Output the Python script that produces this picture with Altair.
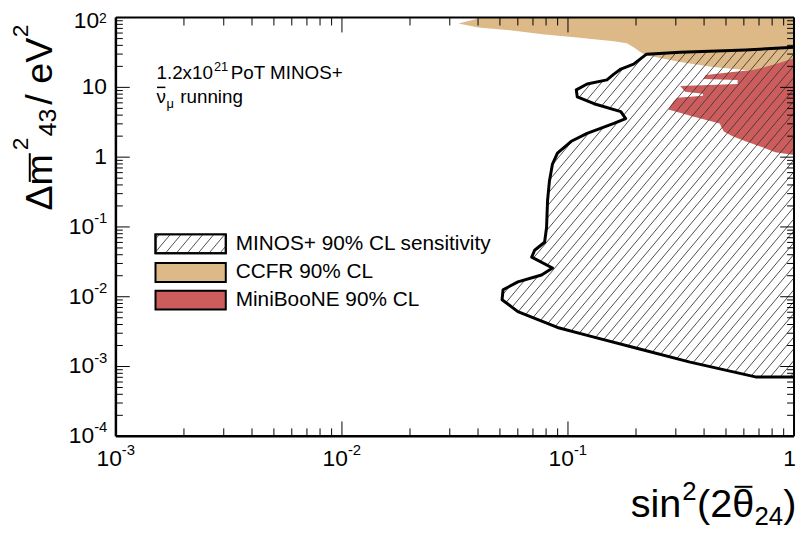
import altair as alt
import numpy as np
import pandas as pd

FONT = "Liberation Sans"
W, H = 685, 423

# ---- data (sin^2(2theta_24), Delta m^2_43 [eV^2]) ----
# MINOS+ 90% CL sensitivity: left boundary of the excluded region (region extends to sin^2 = 1)
minos_s2 = [1.0, 0.610, 0.3135, 0.2226, 0.1952, 0.1713, 0.1596, 0.1487, 0.1215, 0.1088,
            0.1099, 0.1304, 0.1713, 0.180, 0.1596, 0.1215, 0.1034, 0.0898, 0.0854, 0.0828,
            0.0812, 0.0804, 0.0788, 0.0712, 0.0691, 0.0854, 0.0764, 0.060, 0.0516, 0.0511,
            0.060, 0.0898, 0.1265, 0.2095, 0.3468, 0.675, 1.0]
minos_dm2 = [37.5, 34.4, 31.9, 29.9, 21.5, 18.3, 15.5, 12.8, 11.2, 9.2,
             7.33, 5.83, 4.49, 3.57, 3.04, 2.19, 1.69, 1.14, 0.796, 0.457,
             0.2376, 0.0984, 0.0603, 0.0464, 0.0369, 0.0258, 0.0205, 0.0163, 0.01257, 0.00907,
             0.00613, 0.00363, 0.00271, 0.00177, 0.001158, 0.00071, 0.00071]

# CCFR 90% CL: left/lower boundary (region extends to sin^2 = 1, above the plot top)
ccfr_s2 = [0.0452, 0.0401, 0.0328, 0.0401, 0.0565, 0.0788, 0.1099, 0.1596, 0.1819, 0.1952,
           0.2095, 0.2226, 0.3135, 0.4374, 0.610, 1.0]
ccfr_dm2 = [117.7, 96.8, 82.2, 72.1, 65.4, 57.4, 52.0, 45.7, 42.8, 37.5,
            31.9, 28.9, 23.0, 19.5, 17.7, 16.6]

# MiniBooNE 90% CL: left boundary (region extends to sin^2 = 1)
mb_s2 = [1.0, 0.860, 0.746, 0.655, 0.535, 0.4076, 0.3955, 0.5628, 0.5628, 0.3135,
         0.330, 0.3955, 0.3955, 0.3042, 0.2922, 0.2779, 0.3575, 0.469, 0.4889, 0.535,
         0.610, 0.7244, 0.8257, 1.0]
mb_dm2 = [26.2, 22.3, 19.5, 17.7, 16.6, 15.0, 13.2, 12.8, 11.2, 10.5,
          8.64, 8.09, 7.58, 7.10, 6.23, 4.80, 3.82, 3.04, 2.34, 1.99,
          1.69, 1.39, 1.18, 1.07]

# axes
x_major = [1e-3, 1e-2, 1e-1, 1.0]
x_exp_vals = [1e-3, 1e-2, 1e-1]
x_exps = ["-3", "-2", "-1"]
y_major = [1e-4, 1e-3, 1e-2, 1e-1, 1.0, 10.0, 100.0]
y_exp_vals = [100.0, 0.1, 0.01, 0.001, 0.0001]
y_exps = ["2", "-1", "-2", "-3", "-4"]
y_plain_vals = [10.0, 1.0]
y_plain_txt = ["10", "1"]
mantissas = [2, 3, 4, 5, 6, 7, 8, 9]
x_minor = [m * d for d in [1e-3, 1e-2, 1e-1] for m in mantissas]
y_minor = [m * d for d in [1e-4, 1e-3, 1e-2, 1e-1, 1.0, 10.0] for m in mantissas]

legend_labels = ["MINOS+ 90% CL sensitivity", "CCFR 90% CL", "MiniBooNE 90% CL"]
C_CCFR = "#ddb987"
C_MB = "#cd5c5c"
C_HATCH = "#3a3a3a"

xs = alt.Scale(type="log", domain=[1e-3, 1.0])
ys = alt.Scale(type="log", domain=[1e-4, 100.0])


def X(f):
    return alt.X(f, type="quantitative", scale=xs, axis=None, stack=None)


def Y(f):
    return alt.Y(f, type="quantitative", scale=ys, axis=None, stack=None)


dummy = pd.DataFrame({"z": [0]})


def txt(text, x, y, size, align="left", baseline="alphabetic", angle=0):
    return alt.Chart(dummy).mark_text(
        text=text, font=FONT, fontSize=size, align=align, baseline=baseline,
        angle=angle, color="black").encode(x=alt.value(x), y=alt.value(y))


def rule_px(x1, y1, x2, y2, color="black", width=1.0):
    return alt.Chart(dummy).mark_rule(color=color, strokeWidth=width).encode(
        x=alt.value(x1), y=alt.value(y1), x2=alt.value(x2), y2=alt.value(y2))


layers = []


def region(s2, dm2, color):
    df = pd.DataFrame({"s2": s2, "dm2": dm2, "edge": [1.0] * len(s2)})
    return alt.Chart(df).mark_area(orient="horizontal", color=color, opacity=1, clip=True).encode(
        y=Y("dm2"), x=X("s2"), x2=alt.X2("edge"))


layers.append(region(ccfr_s2, ccfr_dm2, C_CCFR))
layers.append(region(mb_s2, mb_dm2, C_MB))

# hatch of MINOS+ region computed from its polygon
U = np.log10(np.array(minos_s2))
V = np.log10(np.array(minos_dm2))
ang = 50.0
k = np.tan(np.radians(ang)) * (W / 3.0) / (H / 6.0)
step = k * 10.0 / (W / 3.0)
cvals = V - k * U
segs = []
for c in np.arange(cvals.min() + 0.4 * step, cvals.max(), step):
    f = V - k * U - c
    us = []
    n = len(U)
    for a in range(n):
        b = (a + 1) % n
        if (f[a] > 0) != (f[b] > 0):
            t = f[a] / (f[a] - f[b])
            us.append(U[a] + t * (U[b] - U[a]))
    us.sort()
    for p in range(0, len(us) - 1, 2):
        u1, u2 = us[p], us[p + 1]
        segs.append({"x1": 10 ** u1, "y1": 10 ** (k * u1 + c), "x2": 10 ** u2, "y2": 10 ** (k * u2 + c)})
hatch_df = pd.DataFrame(segs)
layers.append(alt.Chart(hatch_df).mark_rule(color=C_HATCH, strokeWidth=0.9, clip=True).encode(
    x=X("x1"), y=Y("y1"), x2="x2", y2="y2"))

# contour line
minos_df = pd.DataFrame({"s2": minos_s2, "dm2": minos_dm2, "i": list(range(len(minos_s2)))})
layers.append(alt.Chart(minos_df).mark_line(color="black", strokeWidth=3, clip=True,
                                            strokeJoin="round").encode(
    x=X("s2"), y=Y("dm2"), order=alt.Order("i:Q")))


# ticks (ROOT style, inside, all four sides)
def xticks(vals, length):
    df = pd.DataFrame({"v": vals})
    b = alt.Chart(df).mark_rule(color="black", strokeWidth=1).encode(
        x=X("v"), y=alt.value(H), y2=alt.value(H - length))
    t = alt.Chart(df).mark_rule(color="black", strokeWidth=1).encode(
        x=X("v"), y=alt.value(0), y2=alt.value(length))
    return [b, t]


def yticks(vals, length):
    df = pd.DataFrame({"v": vals})
    l = alt.Chart(df).mark_rule(color="black", strokeWidth=1).encode(
        y=Y("v"), x=alt.value(0), x2=alt.value(length))
    r = alt.Chart(df).mark_rule(color="black", strokeWidth=1).encode(
        y=Y("v"), x=alt.value(W), x2=alt.value(W - length))
    return [l, r]


layers += xticks(x_major, 15) + xticks(x_minor, 8)
layers += yticks(y_major, 14) + yticks(y_minor, 7)

# frame
layers.append(rule_px(0, 0, W, 0, width=2))
layers.append(rule_px(0, H, W, H, width=2.5))
layers.append(rule_px(0, 0, 0, H, width=2.5))
layers.append(rule_px(W, 0, W, H, width=2))

# x tick labels
xl = pd.DataFrame({"v": x_exp_vals, "e": x_exps})
layers.append(alt.Chart(xl).mark_text(font=FONT, fontSize=23, align="right", baseline="middle",
                                      dx=6, text="10").encode(x=X("v"), y=alt.value(H + 23)))
layers.append(alt.Chart(xl).mark_text(font=FONT, fontSize=15, align="left", baseline="middle",
                                      dx=6).encode(x=X("v"), y=alt.value(H + 14), text="e:N"))
layers.append(alt.Chart(pd.DataFrame({"v": [1.0]})).mark_text(
    font=FONT, fontSize=23, align="right", baseline="middle", text="1", dx=2).encode(
    x=X("v"), y=alt.value(H + 23)))

# y tick labels
yp = pd.DataFrame({"v": y_plain_vals, "t": y_plain_txt})
layers.append(alt.Chart(yp).mark_text(font=FONT, fontSize=23, align="right", baseline="middle").encode(
    y=Y("v"), x=alt.value(-9), text="t:N"))
for v, e in zip(y_exp_vals, y_exps):
    jx = -9 - (8 if len(e) == 1 else 13)
    top = v >= 100.0
    d = pd.DataFrame({"v": [v]})
    layers.append(alt.Chart(d).mark_text(font=FONT, fontSize=23, align="right", baseline="middle",
                                         text="10", dy=4 if top else 0).encode(y=Y("v"), x=alt.value(jx)))
    layers.append(alt.Chart(d).mark_text(font=FONT, fontSize=14 if top else 15, align="left",
                                         baseline="middle", dy=1 if top else -9,
                                         text=e).encode(y=Y("v"), x=alt.value(jx)))

# annotation
layers.append(txt("1.2x10", 41, 62, 19))
layers.append(txt("21", 99, 54, 13))
layers.append(txt("PoT MINOS+", 116, 62, 19))
layers.append(txt("\u03bd", 41, 86, 19))
layers.append(rule_px(41.5, 70.5, 50, 70.5, width=1.5))
layers.append(txt("\u03bc", 51, 91, 13))
layers.append(txt("running", 65, 86, 19))

# legend
box_y = [(219, 238), (248, 267), (276, 295)]
box_fill = ["white", C_CCFR, C_MB]
lx0, lx1 = 40, 111
for (y0, y1), fc in zip(box_y, box_fill):
    layers.append(alt.Chart(dummy).mark_rect(fill=fc, stroke="black", strokeWidth=2).encode(
        x=alt.value(lx0), x2=alt.value(lx1), y=alt.value(y0), y2=alt.value(y1)))
s = np.tan(np.radians(ang))
y0, y1 = box_y[0]
hgt = y1 - y0
xb = lx0 - hgt / s + 4
while xb < lx1:
    t0 = max(lx0 - xb, 0.0)
    t1 = min(lx1 - xb, hgt / s)
    if t1 > t0:
        layers.append(rule_px(xb + t0, y1 - s * t0, xb + t1, y1 - s * t1, color=C_HATCH, width=0.9))
    xb += 11
for (y0, y1), lab in zip(box_y, legend_labels):
    layers.append(txt(lab, 121, (y0 + y1) / 2.0, 21, baseline="middle"))
layers.append(alt.Chart(dummy).mark_rect(fill=None, stroke="black", strokeWidth=2).encode(
    x=alt.value(lx0), x2=alt.value(lx1), y=alt.value(box_y[0][0]), y2=alt.value(box_y[0][1])))

# y-axis title (rotated)
layers.append(txt("\u0394m", -65, 195, 38, angle=270))
layers.append(rule_px(-87, 166, -87, 137, width=2))
layers.append(txt("2", -89, 134, 23, angle=270))
layers.append(txt("43", -61, 120, 25, angle=270))
layers.append(txt("/ eV", -65, 88, 38, angle=270))
layers.append(txt("2", -89, 20, 23, angle=270))

# x-axis title
layers.append(txt("sin", 520, 504, 40))
layers.append(txt("2", 572, 487, 26))
layers.append(txt("(2\u03b8", 587, 504, 40))
layers.append(rule_px(625, 474, 643, 474, width=2))
layers.append(txt("24", 645, 513, 26))
layers.append(txt(")", 674, 504, 40))

chart = alt.layer(*layers).properties(
    width=W, height=H,
    padding={"left": 109, "top": 7, "right": 2, "bottom": 96},
    autosize=alt.AutoSizeParams(type="none"),
    background="white",
).configure_view(stroke=None)

chart.save("out.html", embed_options={"renderer": "svg", "actions": False})
